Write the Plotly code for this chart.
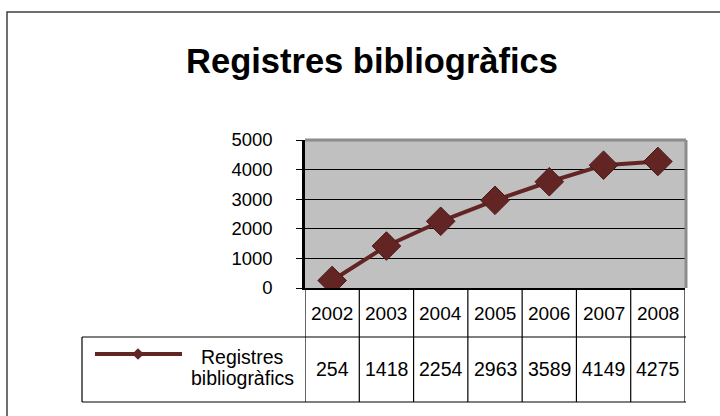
import plotly.graph_objects as go

years = ["2002", "2003", "2004", "2005", "2006", "2007", "2008"]
registres = [254, 1418, 2254, 2963, 3589, 4149, 4275]
series_lines = ["Registres", "bibliogràfics"]
y_ticks = [0, 1000, 2000, 3000, 4000, 5000]

W, H = 720, 416
COLOR = "#632523"
FONT = "Liberation Sans, Arial, sans-serif"


def py(p):
    # pixel row -> paper coordinate
    return (H - p) / H


def px(p):
    return p / W


fig = go.Figure()

fig.add_trace(go.Scatter(
    x=years,
    y=registres,
    mode="lines+markers",
    name=" ".join(series_lines),
    line=dict(color=COLOR, width=4),
    marker=dict(symbol="diamond", size=22, color=COLOR,
                line=dict(color="#4a1a18", width=1)),
    showlegend=False,
))

shapes = []
annotations = []

# plot area fill
shapes.append(dict(type="rect", xref="x domain", yref="y domain",
                   x0=0, x1=1, y0=0, y1=1, layer="below",
                   fillcolor="#c0c0c0", line=dict(width=0)))

# outer chart border
shapes.append(dict(type="rect", xref="paper", yref="paper",
                   x0=px(7), x1=px(730), y0=py(430), y1=py(12),
                   line=dict(color="#404040", width=1.5)))

# plot area shadow (top and right)
shapes.append(dict(type="line", xref="paper", yref="paper",
                   x0=px(305), x1=px(686), y0=py(140), y1=py(140),
                   line=dict(color="#8c8c8c", width=3)))
shapes.append(dict(type="line", xref="paper", yref="paper",
                   x0=px(686), x1=px(686), y0=py(140), y1=py(288),
                   line=dict(color="#8c8c8c", width=3)))

# data table grid
for i in range(len(years) + 1):
    shapes.append(dict(type="line", xref="x", yref="paper",
                       x0=i - 0.5, x1=i - 0.5, y0=py(402), y1=py(288),
                       line=dict(color="black", width=1.2)))
for yy in (337, 402):
    shapes.append(dict(type="line", xref="paper", yref="paper",
                       x0=px(82), x1=px(686), y0=py(yy), y1=py(yy),
                       line=dict(color="black", width=1.2)))
shapes.append(dict(type="line", xref="paper", yref="paper",
                   x0=px(82), x1=px(82), y0=py(402), y1=py(337),
                   line=dict(color="black", width=1.2)))

# legend key in table
shapes.append(dict(type="line", xref="paper", yref="paper",
                   x0=px(95), x1=px(182), y0=py(354), y1=py(354),
                   line=dict(color=COLOR, width=4)))

for i, (yr, v) in enumerate(zip(years, registres)):
    annotations.append(dict(x=i, y=py(313), xref="x", yref="paper",
                            xanchor="center", yanchor="middle",
                            text=yr, showarrow=False,
                            font=dict(size=19, color="black", family=FONT)))
    annotations.append(dict(x=i, y=py(369), xref="x", yref="paper",
                            xanchor="center", yanchor="middle",
                            text=str(v), showarrow=False,
                            font=dict(size=19.5, color="black", family=FONT)))

for line_text, yy in zip(series_lines, (357, 378)):
    annotations.append(dict(x=px(242), y=py(yy), xref="paper", yref="paper",
                            xanchor="center", yanchor="middle",
                            text=line_text, showarrow=False,
                            font=dict(size=19.5, color="black", family=FONT)))

fig.add_trace(go.Scatter(
    x=[px(138)], y=[py(354)], xaxis="x2", yaxis="y2",
    mode="markers", marker=dict(symbol="diamond", size=9, color=COLOR),
    showlegend=False, hoverinfo="skip",
))

fig.update_layout(
    width=W, height=H,
    margin=dict(l=0, r=0, t=0, b=0, autoexpand=False),
    paper_bgcolor="white",
    plot_bgcolor="rgba(0,0,0,0)",
    font=dict(family=FONT, color="black"),
    showlegend=False,
    title=dict(text="<b>Registres bibliogràfics</b>", x=px(372), xanchor="center",
               y=py(61), yanchor="middle",
               font=dict(size=34.5, family=FONT, color="black")),
    xaxis=dict(type="category", domain=[px(305), px(685)], range=[-0.5, 6.5],
               showticklabels=False, showgrid=False, zeroline=False,
               showline=True, linecolor="black", linewidth=1.5, ticks=""),
    yaxis=dict(domain=[py(288), py(140)], range=[0, 5000], tickvals=y_ticks,
               showgrid=True, gridcolor="black", gridwidth=1, zeroline=False,
               showline=True, linecolor="black", linewidth=2.5,
               ticks="outside", ticklen=6, tickcolor="black",
               ticklabelstandoff=20,
               tickfont=dict(size=18.5, family=FONT, color="black")),
    xaxis2=dict(domain=[0, 1], range=[0, 1], visible=False, anchor="y2"),
    yaxis2=dict(domain=[0, 1], range=[0, 1], visible=False, anchor="x2"),
    shapes=shapes,
    annotations=annotations,
)

fig.write_html("out.html", config={"displayModeBar": False},
               post_script="document.body.style.margin = '0';")
